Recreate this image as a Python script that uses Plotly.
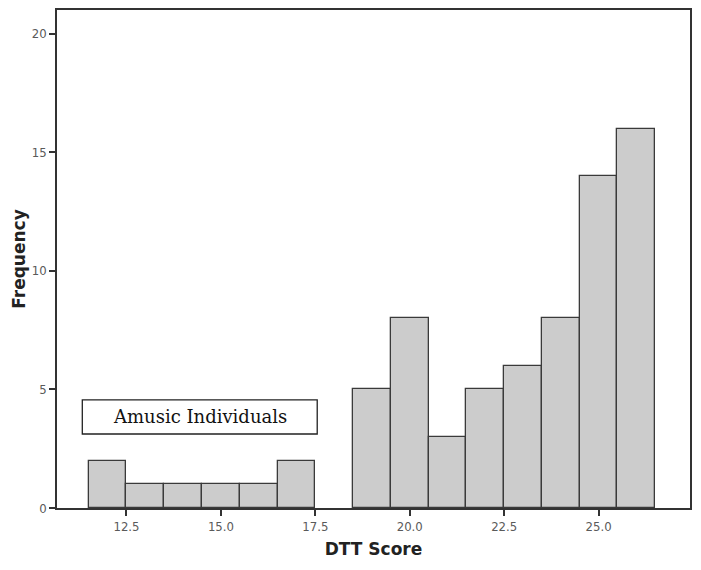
import plotly.graph_objects as go

# DTT score bins (centres, width 1) and their frequencies
scores = [12, 13, 14, 15, 16, 17, 19, 20, 21, 22, 23, 24, 25, 26]
freqs = [2, 1, 1, 1, 1, 2, 5, 8, 3, 5, 6, 8, 14, 16]

x_ticks = [12.5, 15.0, 17.5, 20.0, 22.5, 25.0]
y_ticks = [0, 5, 10, 15, 20]

box_label = "Amusic Individuals"

fig = go.Figure()
fig.add_trace(go.Bar(
    x=scores, y=freqs, width=1,
    marker=dict(color="#cccccc", line=dict(color="#3a3a3a", width=1.3)),
    hoverinfo="x+y",
))

# outlined label box above the amusic group
fig.add_shape(type="rect", xref="x", yref="y",
              x0=11.33, x1=17.55, y0=3.12, y1=4.56,
              line=dict(color="#222222", width=1.3), fillcolor="white")
fig.add_annotation(x=(11.33 + 17.55) / 2, y=(3.12 + 4.56) / 2, xref="x", yref="y",
                   text=box_label, showarrow=False,
                   font=dict(family="DejaVu Serif", size=18, color="#111111"))

axis_common = dict(showline=True, linecolor="#333333", linewidth=1.5, mirror=True,
                   ticks="outside", ticklen=6, tickcolor="#333333", tickwidth=1.5,
                   showgrid=False, zeroline=False, automargin=False,
                   tickfont=dict(family="DejaVu Sans Condensed, DejaVu Sans", size=13, color="#5a5a5a"))

fig.update_xaxes(range=[10.66, 27.42], tickvals=x_ticks, tickformat=".1f",
                 title=dict(text="<b>DTT Score</b>", standoff=10,
                            font=dict(family="DejaVu Sans", size=17, color="#222222")),
                 **axis_common)
fig.update_yaxes(range=[0, 21.0], tickvals=y_ticks,
                 title=dict(text="<b>Frequency</b>", standoff=2,
                            font=dict(family="DejaVu Sans", size=17, color="#222222")),
                 **axis_common)

fig.update_layout(
    width=701, height=570,
    margin=dict(l=57, r=11, t=10, b=62),
    plot_bgcolor="white", paper_bgcolor="white",
    showlegend=False, bargap=0,
)

fig.write_html("out.html", config={"displayModeBar": False},
               post_script="document.body.style.margin='0';")
